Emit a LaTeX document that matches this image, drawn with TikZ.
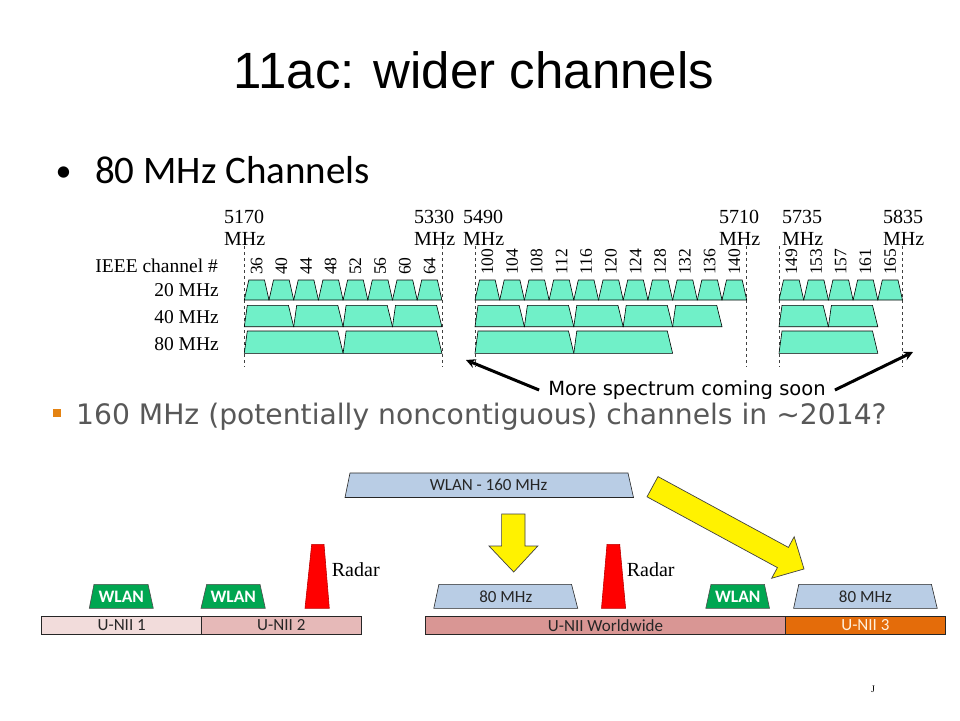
\documentclass[tikz,border=0pt]{standalone}
\usepackage{fontspec}
\setmainfont{Liberation Serif}
\newfontfamily\arialfont{Liberation Sans}
\newfontfamily\calfont{Carlito}
\newfontfamily\dejafont{DejaVu Sans}
\usetikzlibrary{calc,arrows}
\usepackage{xcolor}

\definecolor{chanfill}{RGB}{112,240,200}
\definecolor{bandblue}{RGB}{185,205,229}
\definecolor{wlangreen}{RGB}{0,166,81}
\definecolor{radarred}{RGB}{255,0,0}
\definecolor{radaredge}{RGB}{192,0,0}
\definecolor{uniione}{RGB}{242,220,219}
\definecolor{uniitwo}{RGB}{230,185,184}
\definecolor{uniiww}{RGB}{217,150,148}
\definecolor{uniithree}{RGB}{228,108,10}
\definecolor{subgray}{RGB}{88,88,88}
\definecolor{bulorange}{RGB}{228,131,18}
\definecolor{textdark}{RGB}{38,38,38}

\tikzset{
	chan/.style={draw=black, line width=0.6pt, fill=chanfill},
	guide/.style={draw=darkgray, dashed, line width=0.7pt},
	freq/.style={font=\fontsize{20}{21.5}\selectfont, align=left, anchor=west, inner sep=0pt},
	rowlbl/.style={font=\fontsize{19.5}{21}\selectfont, anchor=east, inner sep=0pt},
	chlbl/.style={font=\fontsize{17.5}{19}\selectfont, rotate=90, anchor=west, inner sep=0pt},
	band/.style={draw=textdark, line width=0.6pt},
	bandtxt/.style={font=\calfont\fontsize{17}{19}\selectfont, text=textdark, inner sep=0pt},
	wlan/.style={draw=black!70, fill=wlangreen, line width=0.6pt},
	wlantxt/.style={font=\calfont\bfseries\fontsize{17.5}{19}\selectfont, text=white, inner sep=0pt},
	radar/.style={draw=radaredge, fill=radarred, line width=0.6pt},
	radartxt/.style={font=\fontsize{20}{22}\selectfont, anchor=west, inner sep=0pt},
	fat/.style={draw=black!75, fill=yellow, line width=0.7pt},
}

\begin{document}
\begin{tikzpicture}[x=1pt,y=-1pt]
			\def\chw{24.7};
			\useasboundingbox[fill=white] (0,0) rectangle (960,720);
			% headings
			\node[font=\arialfont\fontsize{51}{60}\selectfont, anchor=base] (title) at (474,88.3) {11ac: wider channels};
			\node[font=\calfont\fontsize{32}{40}\selectfont, anchor=base] (dot) at (63.5,181.5) {•};
			\node[font=\calfont\fontsize{39}{44}\selectfont, anchor=base west, inner sep=0pt] (sub) at (95,183.3) {80 MHz Channels};
			% band edges
			\foreach \x in {244.3,442.1,475,746.7,779,902.5}
				\draw[guide] (\x,246) -- (\x,367);
			% channels: 20, 40 and 80 MHz rows
			\foreach \g/\na/\nb/\nc in {244.3/7/3/1, 475/10/4/1, 779/4/1/0} {
				\foreach \k in {0,...,\na}
					\draw[chan] ({\g+\k*\chw},300) -- ({\g+\k*\chw+4.5},280) -- ({\g+(\k+1)*\chw-4.5},280) -- ({\g+(\k+1)*\chw},300) -- cycle;
				\foreach \k in {0,...,\nb}
					\draw[chan] ({\g+2*\k*\chw},326.7) -- ({\g+2*\k*\chw+3},305.3) -- ({\g+2*(\k+1)*\chw-5.3},305.3) -- ({\g+2*(\k+1)*\chw},326.7) -- cycle;
				\foreach \k in {0,...,\nc}
					\draw[chan] ({\g+4*\k*\chw},353.3) -- ({\g+4*\k*\chw+3},331) -- ({\g+4*(\k+1)*\chw-5.3},331) -- ({\g+4*(\k+1)*\chw},353.3) -- cycle;
			}
			% channel numbers
			\foreach \c [count=\k from 0] in {36,40,...,64}
				\node[chlbl] (c\c) at ({244.3+(\k+0.5)*\chw},275) {\c};
			\foreach \c [count=\k from 0] in {100,104,...,140}
				\node[chlbl] (c\c) at ({475+(\k+0.5)*\chw},275) {\c};
			\foreach \c [count=\k from 0] in {149,153,...,165}
				\node[chlbl] (c\c) at ({779+(\k+0.5)*\chw},275) {\c};
			% frequencies
			\node[freq] (f5170) at (224,228) {5170\\MHz};
			\node[freq] (f5330) at (414,228) {5330\\MHz};
			\node[freq] (f5490) at (463,228) {5490\\MHz};
			\node[freq] (f5710) at (719,228) {5710\\MHz};
			\node[freq] (f5735) at (782,228) {5735\\MHz};
			\node[freq] (f5835) at (883,228) {5835\\MHz};
			% row labels
			\node[rowlbl] (ieee) at (218,265.7) {IEEE channel \#};
			\node[rowlbl] (r20) at (219,290) {20 MHz};
			\node[rowlbl] (r40) at (219,317) {40 MHz};
			\node[rowlbl] (r80) at (219,344) {80 MHz};
			% more spectrum
			\node[font=\dejafont\fontsize{19.5}{22}\selectfont, inner xsep=9pt, inner ysep=2pt] (soon) at (687,390) {More spectrum coming soon};
			\coordinate (tipL) at (466,360);
			\coordinate (tipR) at (913,352);
			\draw[-stealth, line width=3pt] (soon.west) -- (tipL);
			\draw[-stealth, line width=3pt] (soon.east) -- (tipR);
			% 160 MHz line
			\node[fill=bulorange, minimum size=8pt, inner sep=0pt] (sq) at (56.7,413.2) {};
			\node[font=\dejafont\fontsize{28.2}{31}\selectfont, text=subgray, anchor=base west, inner sep=0pt] (plan) at (76,424.3) {160 MHz (potentially noncontiguous) channels in \textasciitilde2014?};
			% U-NII bands
			\draw[band, fill=uniione] (41.7,616.7) rectangle (201.7,634);
			\draw[band, fill=uniitwo] (201.7,616.7) rectangle (361,634);
			\draw[band, fill=uniiww] (425.2,616.7) rectangle (785.7,634);
			\draw[band, fill=uniithree] (785.7,616.7) rectangle (945.1,634);
			\node[bandtxt] (u1) at (121.7,625.5) {U-NII 1};
			\node[bandtxt] (u2) at (281.3,625.5) {U-NII 2};
			\node[bandtxt] (uww) at (605.5,625.5) {U-NII Worldwide};
			\node[bandtxt, text={rgb,255:red,255;green,240;blue,220}] (u3) at (865.4,625.5) {U-NII 3};
			% WLAN
			\draw[wlan] (89.3,608.3) -- (94,584.3) -- (148,584.3) -- (153.3,608.3) -- cycle;
			\draw[wlan] (201,608.3) -- (206.7,584.3) -- (260,584.3) -- (265.3,608.3) -- cycle;
			\draw[wlan] (705.8,608.3) -- (711,584.3) -- (764.4,584.3) -- (769.5,608.3) -- cycle;
			\node[wlantxt] (w1) at (121.3,596.5) {WLAN};
			\node[wlantxt] (w2) at (233.2,596.5) {WLAN};
			\node[wlantxt] (w3) at (737.7,596.5) {WLAN};
			% radar
			\draw[radar] (305,608.3) -- (311.7,544.3) -- (324,544.3) -- (329.3,608.3) -- cycle;
			\draw[radar] (601.5,608.3) -- (607,544.3) -- (619.7,544.3) -- (625.6,608.3) -- cycle;
			\node[radartxt] (rad1) at (331.7,570) {Radar};
			\node[radartxt] (rad2) at (626.6,570) {Radar};
			% 80 / 160 MHz blocks
			\draw[band, fill=bandblue] (433.8,608.3) -- (438.9,584.3) -- (571.5,584.3) -- (577.7,608.3) -- cycle;
			\draw[band, fill=bandblue] (793.6,608.3) -- (798.8,584.3) -- (931.4,584.3) -- (937.2,608.3) -- cycle;
			\draw[band, fill=bandblue] (345,497.5) -- (350,473) -- (628,473) -- (633.5,497.5) -- cycle;
			\node[bandtxt] (b80l) at (505.8,596.5) {80 MHz};
			\node[bandtxt] (b80r) at (865.4,596.5) {80 MHz};
			\node[bandtxt] (b160) at (488.5,485.3) {WLAN - 160 MHz};
			% yellow arrows
			\draw[fat] (501.6,514) -- (525,514) -- (525,546) -- (537.8,546) -- (513.7,572) -- (489,546) -- (501.6,546) -- cycle;
			\begin{scope}[shift={(652.5,486.7)}, rotate=-28.5]
				\draw[fat] (0,-11.5) -- (148.4,-11.5) -- (148.4,-23.6) -- (172.4,0) -- (148.4,23.6) -- (148.4,11.5) -- (0,11.5) -- cycle;
			\end{scope}
			\node[font=\fontsize{10}{12}\selectfont] (mark) at (873,689) {J};
\end{tikzpicture}
\end{document}
